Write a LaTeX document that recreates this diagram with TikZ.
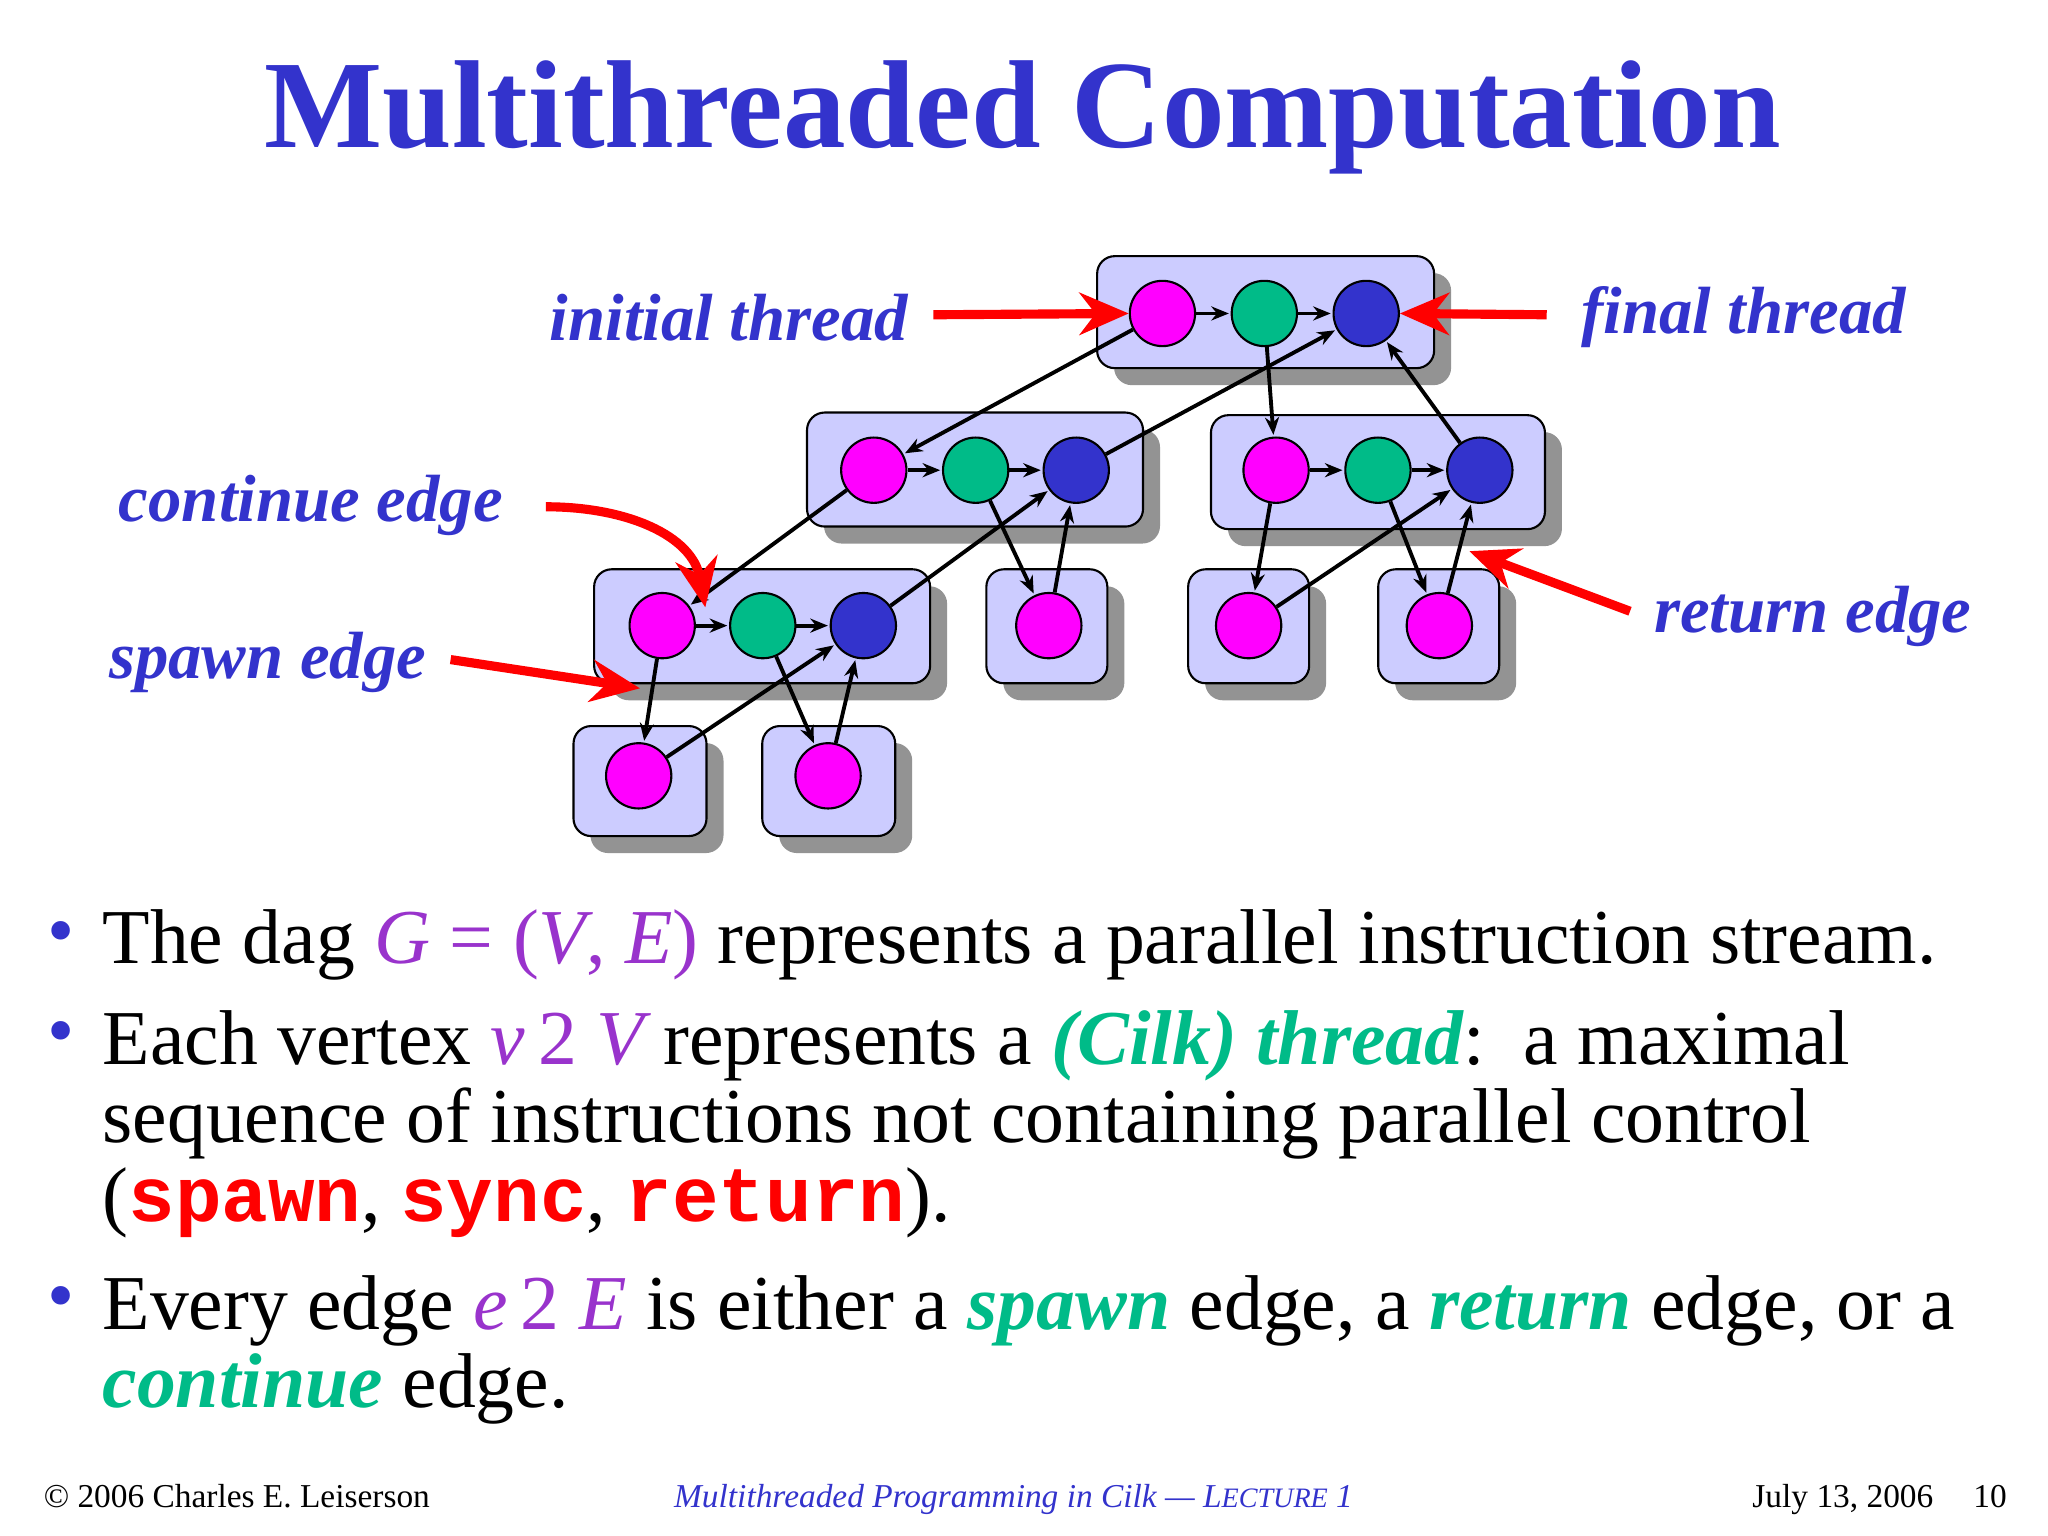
\documentclass[tikz,border=0pt]{standalone}
\usepackage{fontspec}
\setmainfont{Liberation Serif}
\newfontfamily\monoB{Liberation Mono}
\usetikzlibrary{shadows,arrows.meta}
\definecolor{tblue}{HTML}{3333CC}
\definecolor{tpurp}{HTML}{9933CC}
\definecolor{tgreen}{HTML}{00BB88}
\definecolor{boxc}{HTML}{CCCCFF}
\definecolor{mag}{HTML}{FF00FF}
\begin{document}
\begin{tikzpicture}[x=0.013061cm,y=-0.013061cm,
  box/.style={draw=black,fill=boxc,rounded corners=5pt,line width=0.6pt,
    drop shadow={shadow xshift=0.17cm,shadow yshift=-0.17cm,fill=gray!85,opacity=1}},
  v/.style={circle,draw=black,line width=0.6pt,minimum size=0.653cm,inner sep=0pt},
  vm/.style={v,fill=mag}, vg/.style={v,fill=tgreen}, vb/.style={v,fill=tblue},
  e/.style={-{Stealth[length=5pt,width=4pt]},line width=1.1pt,shorten >=0.5pt},
  ra/.style={-{Stealth[length=14pt,width=12pt]},draw=red,line width=2.6pt},
  lab/.style={font=\fontsize{19}{22}\selectfont\bfseries\itshape,text=tblue},
  bt/.style={anchor=base west,inner sep=0pt,font=\fontsize{22.1}{26}\selectfont}]
\useasboundingbox (0,0) rectangle (1568,1176);
\node[text=tblue,font=\fontsize{35.6}{40}\selectfont\bfseries] (title) at (783,90) {Multithreaded Computation};
% boxes
\node[box,minimum width=3.37cm,minimum height=1.12cm] (B1) at (969,239) {};
\node[box,minimum width=3.36cm,minimum height=1.14cm] (B2) at (746.5,359.5) {};
\node[box,minimum width=3.34cm,minimum height=1.14cm] (B3) at (1055,361.5) {};
\node[box,minimum width=3.36cm,minimum height=1.14cm] (B4) at (583.5,479.5) {};
\node[box,minimum width=1.21cm,minimum height=1.14cm] (B5) at (801.5,479.5) {};
\node[box,minimum width=1.21cm,minimum height=1.14cm] (B6) at (956,479.5) {};
\node[box,minimum width=1.21cm,minimum height=1.14cm] (B7) at (1101.5,479.5) {};
\node[box,minimum width=1.33cm,minimum height=1.10cm] (B8) at (490,598) {};
\node[box,minimum width=1.33cm,minimum height=1.10cm] (B9) at (634.5,598) {};
% vertices
\node[vm] (a1) at (890,240) {}; \node[vg] (a2) at (968,240) {}; \node[vb] (a3) at (1046,240) {};
\node[vm] (b1) at (669,360) {}; \node[vg] (b2) at (747,360) {}; \node[vb] (b3) at (824,360) {};
\node[vm] (c1) at (977,360) {}; \node[vg] (c2) at (1055,360) {}; \node[vb] (c3) at (1133,360) {};
\node[vm] (d1) at (507,479) {}; \node[vg] (d2) at (584,479) {}; \node[vb] (d3) at (661,479) {};
\node[vm] (s1) at (803,479) {}; \node[vm] (s2) at (956,479) {}; \node[vm] (s3) at (1102,479) {};
\node[vm] (f1) at (489,594) {}; \node[vm] (f2) at (634,594) {};
% continue edges
\foreach \p/\q in {a1/a2,a2/a3,b1/b2,b2/b3,c1/c2,c2/c3,d1/d2,d2/d3} \draw[e] (\p) -- (\q);
% spawn edges
\foreach \p/\q in {a1/b1,a2/c1,b1/d1,b2/s1,c1/s2,c2/s3,d1/f1,d2/f2} \draw[e] (\p) -- (\q);
% return edges
\foreach \p/\q in {b3/a3,c3/a3,s1/b3,d3/b3,s2/c3,s3/c3,f1/d3,f2/d3} \draw[e] (\p) -- (\q);
% labels
\node[lab] (li) at (558,243) {initial thread};
\node[lab] (lf) at (1335,243) {final thread};
\node[lab] (lc) at (238,387) {continue edge};
\node[lab] (ls) at (205,507) {spawn edge};
\node[lab] (lr) at (1388,472) {return edge};
\coordinate (pc) at (540,465); \coordinate (ps) at (490,527); \coordinate (pr) at (1125,422);
\draw[ra] (li.east)+(10,-2) -- (a1.west);
\draw[ra] (lf.west)+(-17,-2) -- (a3.east);
\draw[ra] (418,388) .. controls (480,388) and (530,410) .. (pc);
\draw[ra] (345,505) -- (ps);
\draw[ra] (1248,468) -- (pr);
% bullets
\foreach \y in {720,797,1000} \node[bt,text=tblue] at (36,\y+12) {•};
\node[bt] (t1) at (78,738) {The dag \textcolor{tpurp}{\itshape G} \textcolor{tpurp}{= (\textit{V}, \textit{E})} represents a parallel instruction stream.};
\node[bt] (t2) at (78,815) {Each vertex \textcolor{tpurp}{\itshape v}\,\textcolor{tpurp}{2}\ \textcolor{tpurp}{\itshape V} represents a \textcolor{tgreen}{\bfseries\itshape (Cilk) thread}:\ \ a maximal};
\node[bt] (t3) at (78,875) {sequence of instructions not containing parallel control};
\node[bt] (t4) at (78,935) {(\textcolor{red}{\monoB\bfseries spawn}, \textcolor{red}{\monoB\bfseries sync}, \textcolor{red}{\monoB\bfseries return}).};
\node[bt] (t5) at (78,1018) {Every edge \textcolor{tpurp}{\itshape e}\,\textcolor{tpurp}{2}\ \textcolor{tpurp}{\itshape E} is either a \textcolor{tgreen}{\bfseries\itshape spawn} edge, a \textcolor{tgreen}{\bfseries\itshape return} edge, or a};
\node[bt] (t6) at (78,1078) {\textcolor{tgreen}{\bfseries\itshape continue} edge.};
% footer
\node[anchor=base west,inner sep=0pt,font=\fontsize{9.5}{11}\selectfont] (fl) at (33,1154) {© 2006 Charles E. Leiserson};
\node[anchor=base,inner sep=0pt,font=\fontsize{9.5}{11}\selectfont\itshape,text=tblue] (fc) at (776,1154) {Multithreaded Programming in Cilk — L{\footnotesize ECTURE} 1};
\node[anchor=base east,inner sep=0pt,font=\fontsize{9.5}{11}\selectfont] (fr) at (1537,1154) {July 13, 2006\hspace{1.2em}10};
\end{tikzpicture}
\end{document}
